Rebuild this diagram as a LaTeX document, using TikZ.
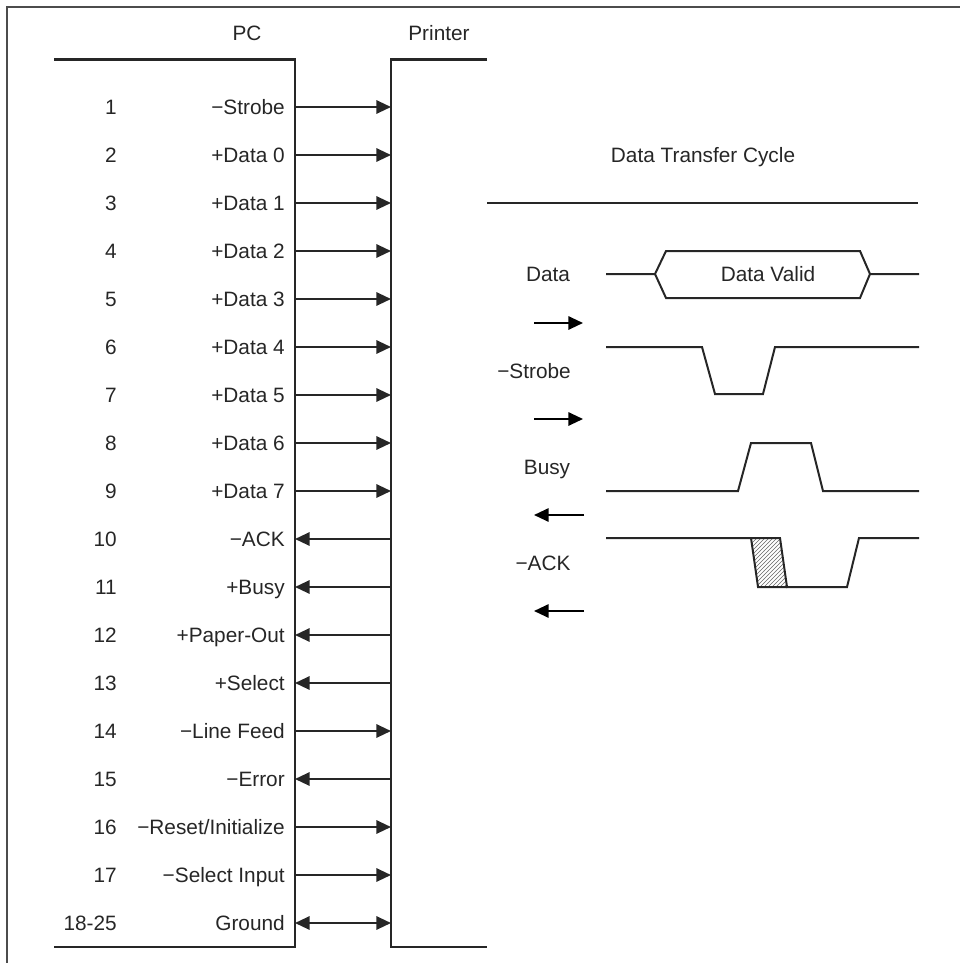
\documentclass[tikz,border=0pt]{standalone}
\usepackage{fontspec}
\setmainfont{Liberation Sans}
\usetikzlibrary{arrows.meta,patterns}
\begin{document}
\begin{tikzpicture}[x=0.75pt,y=-0.75pt,
  every node/.style={font=\fontsize{15.6}{18}\selectfont, text=black!85, inner sep=0pt,
    text height=11.2pt, text depth=0pt},
  wire/.style={line width=1.6pt, draw=black!85},
  sig/.style={line width=1.5pt, draw=black!85},
  tip/.style={-{Triangle[length=11pt,width=10pt]}},
  both/.style={{Triangle[length=11pt,width=10pt]}-{Triangle[length=11pt,width=10pt]}},
  numlab/.style={anchor=east},
  pinlab/.style={anchor=east},
  smallarrow/.style={line width=1.5pt, -{Triangle[length=11pt,width=10pt]}}]
\useasboundingbox (0,0) rectangle (960,963);
% frame (top and left only)
\draw[line width=1.3pt, draw=black!70] (7,963) -- (7,7) -- (960,7);
% headers
\node (pchead) at (247,33) {PC};
\node (prhead) at (439,33) {Printer};
% wires
\draw[wire] (54,59.5) -- (295,59.5) -- (295,947) -- (54,947);
\draw[wire] (487,59.5) -- (391,59.5) -- (391,947) -- (487,947);
% rows
\foreach \i/\n/\l/\d in {1/1/{−Strobe}/r, 2/2/{+Data 0}/r, 3/3/{+Data 1}/r, 4/4/{+Data 2}/r,
  5/5/{+Data 3}/r, 6/6/{+Data 4}/r, 7/7/{+Data 5}/r, 8/8/{+Data 6}/r, 9/9/{+Data 7}/r,
  10/10/{−ACK}/l, 11/11/{+Busy}/l, 12/12/{+Paper-Out}/l, 13/13/{+Select}/l,
  14/14/{−Line Feed}/r, 15/15/{−Error}/l, 16/16/{−Reset/Initialize}/r,
  17/17/{−Select Input}/r, 18/18-25/{Ground}/b}{
  \pgfmathsetmacro{\yy}{107+(\i-1)*48}
  \node[numlab] (num\i) at (117,\yy) {\n};
  \node[pinlab] (lab\i) at (285,\yy) {\l};
  \coordinate (pc\i) at (295,\yy);
  \coordinate (pr\i) at (391,\yy);
  \if\d r \draw[wire,tip] (pc\i) -- (pr\i); \fi
  \if\d l \draw[wire,tip] (pr\i) -- (pc\i); \fi
  \if\d b \draw[wire,both] (pc\i) -- (pr\i); \fi
}
% timing diagram
\node (title) at (703,155) {Data Transfer Cycle};
\draw[wire] (487,203) -- (918,203);
\node (ldata) at (548,274) {Data};
\node (lstrobe) at (534,371) {−Strobe};
\node (lbusy) at (547,467) {Busy};
\node (lack) at (543,563) {−ACK};
\node (lvalid) at (768,274) {Data Valid};
% Data
\draw[sig] (606,274) -- (655,274) -- (666,251) -- (860,251) -- (870,274) -- (919,274);
\draw[sig] (655,274) -- (666,298) -- (860,298) -- (870,274);
% Strobe
\draw[sig] (606,347) -- (702,347) -- (715,394) -- (763,394) -- (775,347) -- (919,347);
% Busy
\draw[sig] (606,491) -- (738,491) -- (751,443) -- (811,443) -- (823,491) -- (919,491);
% ACK
\fill[pattern=north east lines, pattern color=black!60] (751,538) -- (780,538) -- (787,587) -- (758,587) -- cycle;
\draw[sig] (751,538) -- (758,587) -- (787,587);
\draw[sig] (606,538) -- (780,538) -- (787,587) -- (847,587) -- (859,538) -- (919,538);
% direction arrows
\coordinate (a1s) at (534,323); \coordinate (a1e) at (583,323);
\coordinate (a2s) at (534,419); \coordinate (a2e) at (583,419);
\coordinate (a3s) at (584,515); \coordinate (a3e) at (534,515);
\coordinate (a4s) at (584,611); \coordinate (a4e) at (534,611);
\draw[smallarrow] (a1s) -- (a1e);
\draw[smallarrow] (a2s) -- (a2e);
\draw[smallarrow] (a3s) -- (a3e);
\draw[smallarrow] (a4s) -- (a4e);
\end{tikzpicture}
\end{document}
